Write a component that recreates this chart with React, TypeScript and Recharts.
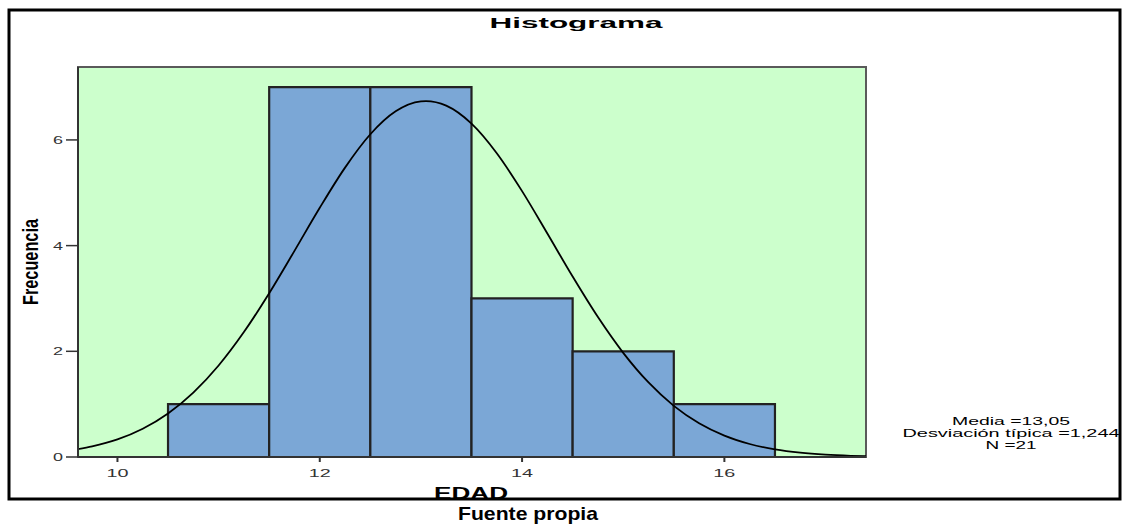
import React from "react";
import {
  ComposedChart,
  Line,
  XAxis,
  YAxis,
  ReferenceArea,
} from "recharts";

// Histogram bins (EDAD) and frequencies
const binStarts = [10.5, 11.5, 12.5, 13.5, 14.5, 15.5];
const binEnds = [11.5, 12.5, 13.5, 14.5, 15.5, 16.5];
const frequencies = [1, 7, 7, 3, 2, 1];

// Normal curve
const curveX = [
  9.6, 9.75, 10.0, 10.25, 10.5, 10.75, 11.0, 11.25, 11.5, 11.75, 12.0, 12.25,
  12.5, 12.75, 13.0, 13.05, 13.25, 13.5, 13.75, 14.0, 14.25, 14.5, 14.75, 15.0,
  15.25, 15.5, 15.75, 16.0, 16.25, 16.5, 16.75, 17.0, 17.25, 17.4,
];
const curveY = [
  0.144, 0.2, 0.333, 0.535, 0.824, 1.219, 1.732, 2.364, 3.099, 3.901, 4.716,
  5.476, 6.107, 6.541, 6.729, 6.734, 6.648, 6.308, 5.748, 5.031, 4.229, 3.414,
  2.647, 1.971, 1.41, 0.968, 0.639, 0.405, 0.246, 0.144, 0.081, 0.044, 0.023,
  0.015,
];

const xTicks = [10, 12, 14, 16];
const yTicks = [0, 2, 4, 6];
const xDomain = [9.61, 17.4];
const yDomain = [0, 7.38];

const statLines = ["Media =13,05", "Desviación típica =1,244", "N =21"];

const FONT = "'Liberation Sans', Arial, sans-serif";

const curveData = curveX.map((x, i) => ({ edad: x, densidad: curveY[i] }));

const XTick = (props: any) => {
  const { x, y, payload } = props;
  const s = String(payload.value);
  return (
    <text
      x={x}
      y={y}
      dy={12.5}
      textAnchor="middle"
      fontFamily={FONT}
      fontSize={11.5}
      fill="#333"
      textLength={s.length * 11}
      lengthAdjust="spacingAndGlyphs"
    >
      {s}
    </text>
  );
};

const YTick = (props: any) => {
  const { x, y, payload } = props;
  const s = String(payload.value);
  return (
    <text
      x={x}
      y={y}
      dy={4}
      textAnchor="end"
      fontFamily={FONT}
      fontSize={11.5}
      fill="#333"
      textLength={s.length * 10}
      lengthAdjust="spacingAndGlyphs"
    >
      {s}
    </text>
  );
};

export default function App() {
  return (
    <div style={{ position: "absolute", left: 0, top: 0, width: 1126, height: 524, background: "#fff" }}>
      <svg
        width={1126}
        height={524}
        style={{ position: "absolute", left: 0, top: 0 }}
      >
        <text
          x={576}
          y={27.5}
          textAnchor="middle"
          fontFamily={FONT}
          fontWeight="bold"
          fontSize={14.5}
          fill="#000"
          textLength={173}
          lengthAdjust="spacingAndGlyphs"
        >
          Histograma
        </text>
        <text
          x={38}
          y={262}
          transform="rotate(-90 38 262)"
          textAnchor="middle"
          fontFamily={FONT}
          fontWeight="bold"
          fontSize={22}
          fill="#000"
          textLength={86}
          lengthAdjust="spacingAndGlyphs"
        >
          Frecuencia
        </text>
        <text
          x={471}
          y={499}
          textAnchor="middle"
          fontFamily={FONT}
          fontWeight="bold"
          fontSize={17}
          fill="#000"
          textLength={74}
          lengthAdjust="spacingAndGlyphs"
        >
          EDAD
        </text>
        {statLines.map((s, i) => (
          <text
            key={s}
            x={1011}
            y={425 + i * 12}
            textAnchor="middle"
            fontFamily={FONT}
            fontSize={11.5}
            fill="#000"
            textLength={[118, 217, 51][i]}
            lengthAdjust="spacingAndGlyphs"
          >
            {s}
          </text>
        ))}
        <rect x={9} y={10} width={1111} height={489} fill="none" stroke="#000" strokeWidth={3} />
        <text
          x={528}
          y={520}
          textAnchor="middle"
          fontFamily={FONT}
          fontWeight="bold"
          fontSize={19}
          fill="#000"
          textLength={140}
          lengthAdjust="spacingAndGlyphs"
        >
          Fuente propia
        </text>
      </svg>
      <div style={{ position: "absolute", left: 0, top: 0 }}>
        <ComposedChart
          width={1126}
          height={524}
          data={curveData}
          margin={{ top: 67, right: 260, bottom: 37, left: 18 }}
        >
          <XAxis
            dataKey="edad"
            type="number"
            domain={xDomain}
            ticks={xTicks}
            allowDataOverflow
            height={30}
            tickSize={5}
            tickMargin={2}
            tick={<XTick />}
            axisLine={{ stroke: "#333", strokeWidth: 2 }}
            tickLine={{ stroke: "#333", strokeWidth: 2 }}
          />
          <YAxis
            type="number"
            domain={yDomain}
            ticks={yTicks}
            allowDataOverflow
            width={60}
            tickSize={12}
            tickMargin={3}
            tick={<YTick />}
            axisLine={{ stroke: "#333", strokeWidth: 2 }}
            tickLine={{ stroke: "#333", strokeWidth: 1.5 }}
          />
          <ReferenceArea
            x1={xDomain[0]}
            x2={xDomain[1]}
            y1={yDomain[0]}
            y2={yDomain[1]}
            fill="#CCFFCC"
            fillOpacity={1}
            stroke="#5a5a5a"
            strokeWidth={2}
          />
          {frequencies.map((f, i) => (
            <ReferenceArea
              key={i}
              x1={binStarts[i]}
              x2={binEnds[i]}
              y1={0}
              y2={f}
              fill="#7BA7D6"
              fillOpacity={1}
              stroke="#222"
              strokeWidth={2.2}
            />
          ))}
          <Line
            dataKey="densidad"
            type="monotone"
            stroke="#000"
            strokeWidth={1.8}
            dot={false}
            activeDot={false}
            isAnimationActive={false}
          />
        </ComposedChart>
      </div>
    </div>
  );
}
